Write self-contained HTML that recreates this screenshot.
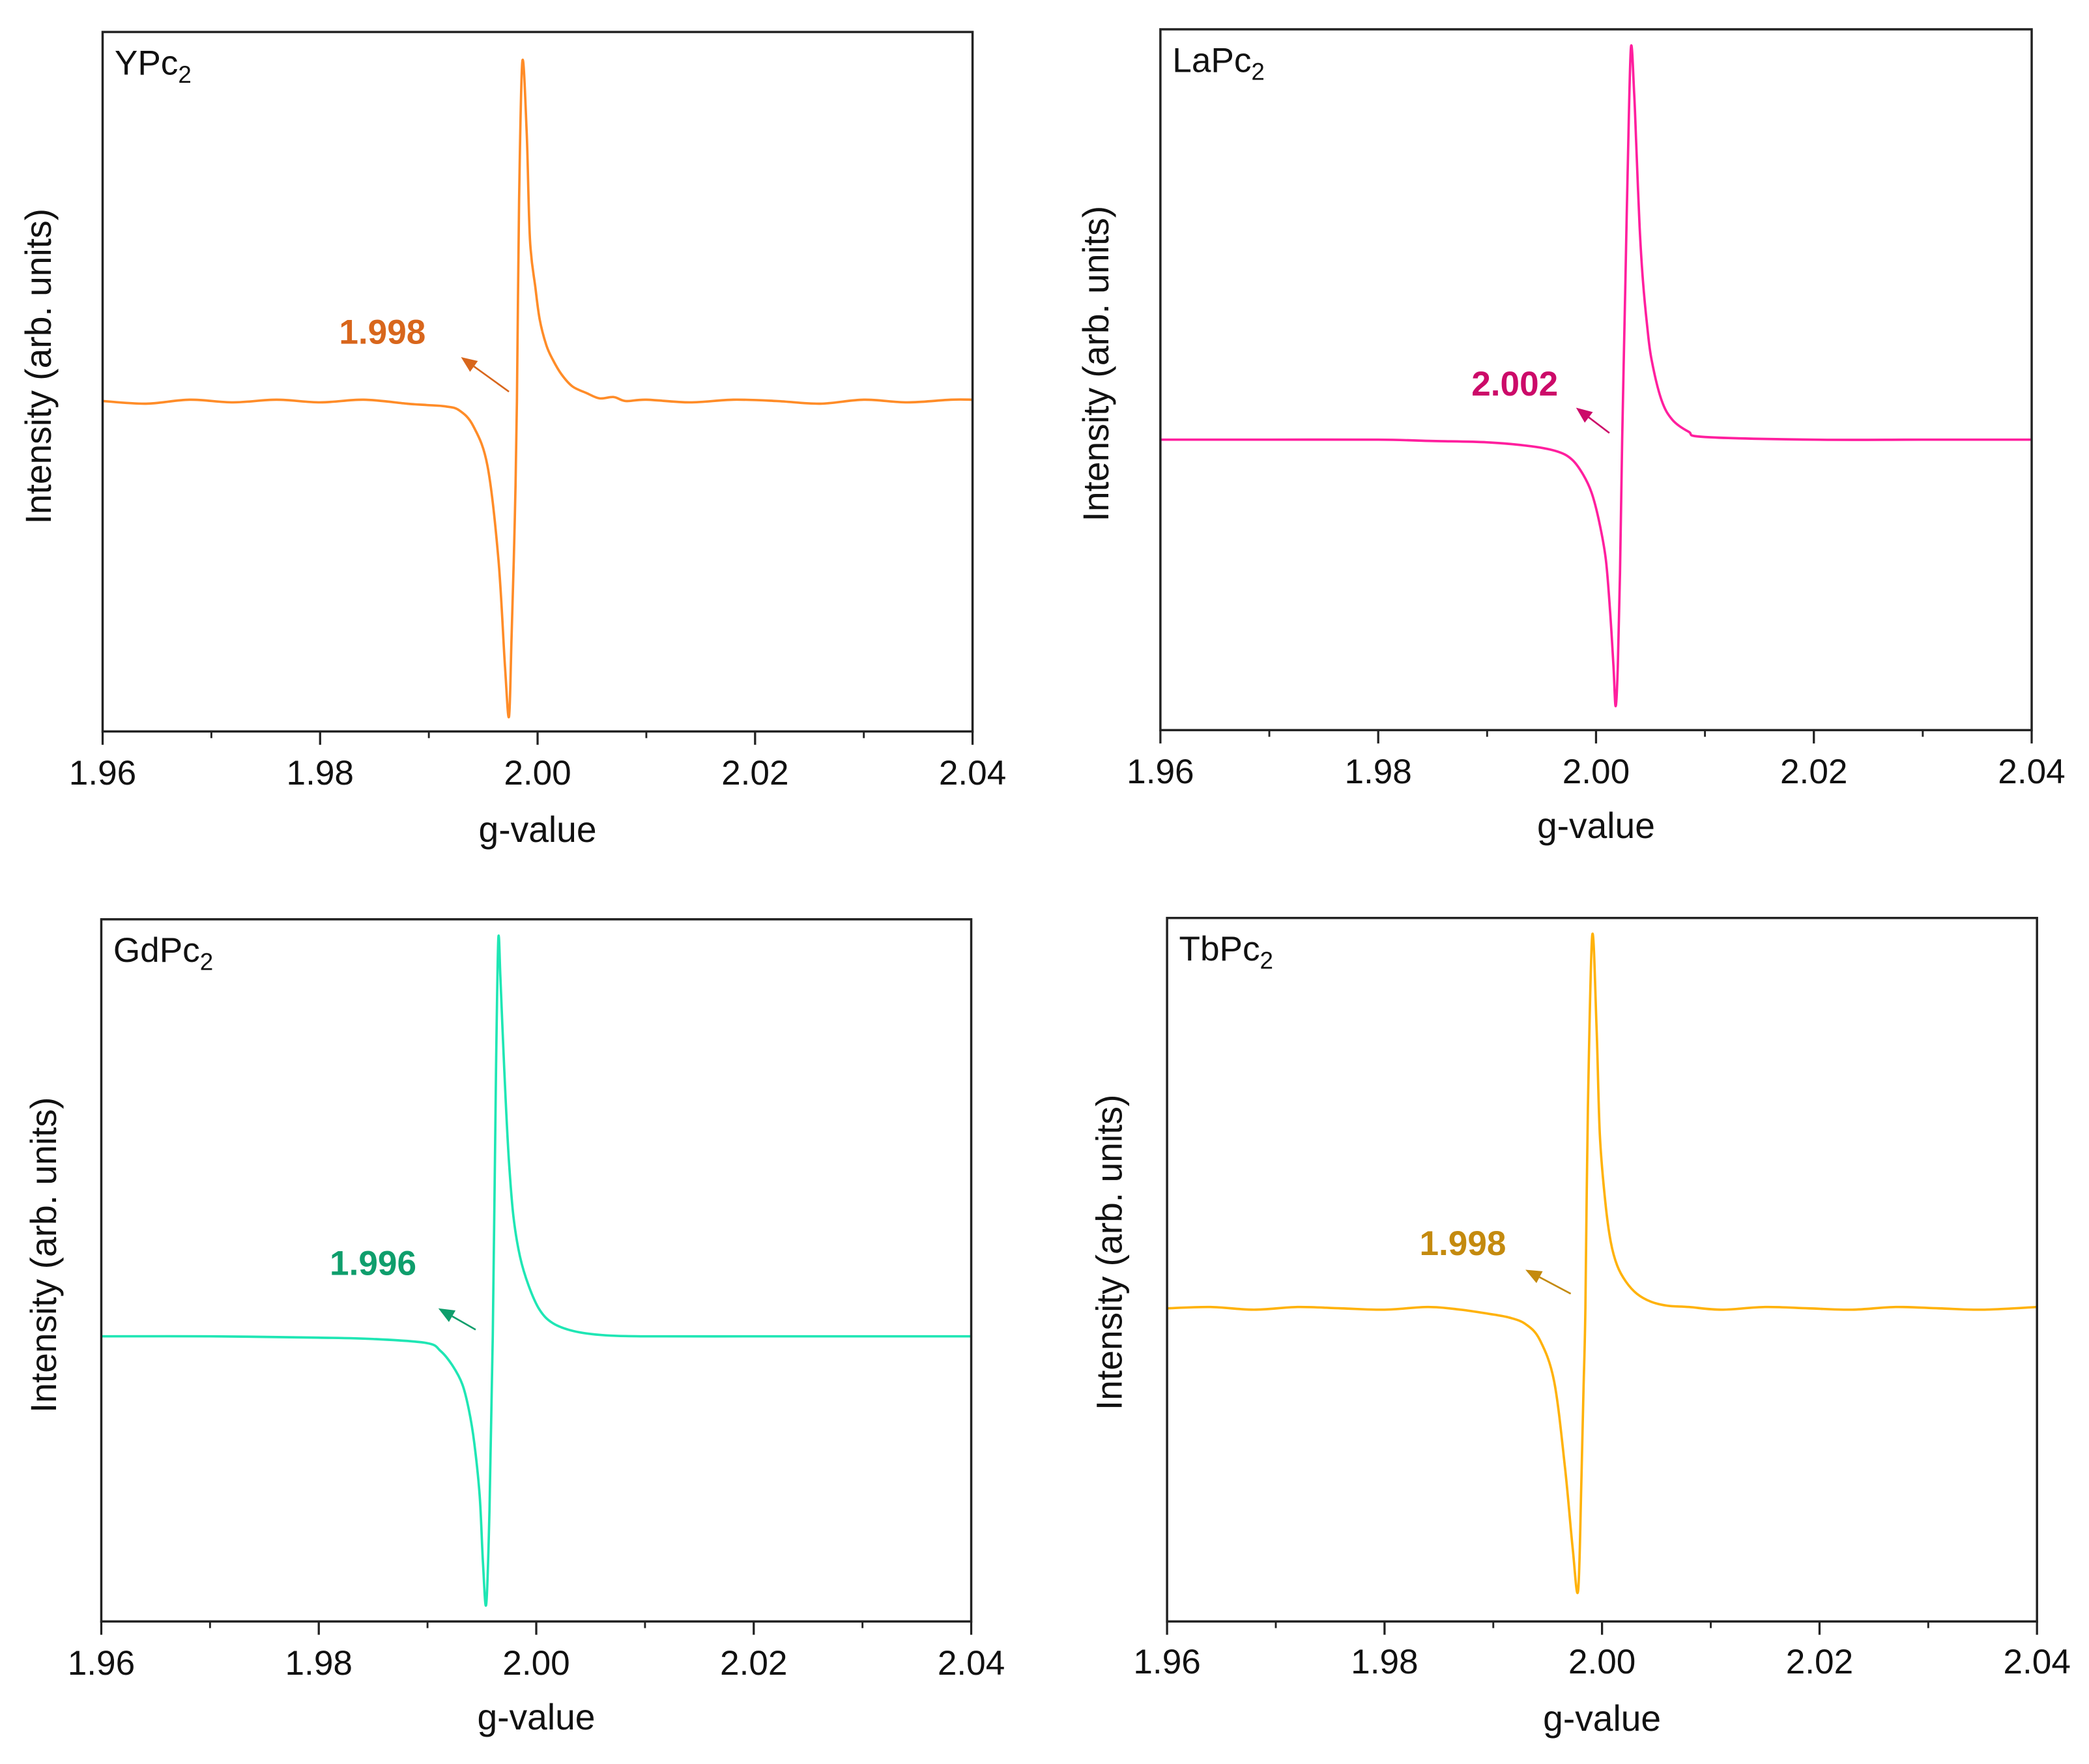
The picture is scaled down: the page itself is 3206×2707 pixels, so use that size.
<!DOCTYPE html>
<html><head><meta charset="utf-8"><style>
html,body{margin:0;padding:0;background:#fff;}
svg{display:block;}
text{font-family:"Liberation Sans",Arial,sans-serif;}
</style></head><body>
<svg id="fig" width="3206" height="2707" viewBox="0 0 1568 1324" xmlns="http://www.w3.org/2000/svg"></svg>
<script>
// ---- data (g-value, intensity relative to baseline) ----
const xTicks = [1.96, 1.98, 2.00, 2.02, 2.04];
const xTickLabels = ["1.96", "1.98", "2.00", "2.02", "2.04"];
const xMinorTicks = [1.97, 1.99, 2.01, 2.03];

const ypcG = [1.96,1.964,1.968,1.972,1.976,1.98,1.984,1.988,1.9898,1.9915,1.9928,1.9941,1.9954,1.9964,1.9970,1.99737,1.9976,1.9979,1.9981,1.9983,1.9986,1.9990,1.9993,1.9998,2.0002,2.0008,2.0014,2.0022,2.0032,2.0045,2.0057,2.0070,2.0081,2.010,2.014,2.018,2.022,2.026,2.030,2.034,2.038,2.04];
const ypcI = [0,-0.02,0.01,-0.01,0.01,-0.01,0.01,-0.02,-0.03,-0.04,-0.07,-0.19,-0.49,-1.19,-1.99,-2.37,-1.79,-0.9,0,1.51,2.55,2.01,1.21,0.85,0.61,0.42,0.31,0.2,0.11,0.06,0.02,0.03,0,0.01,-0.01,0.01,0,-0.02,0.01,-0.01,0.01,0.01];

const lapcG = [1.96,1.97,1.98,1.985,1.990,1.9941,1.9965,1.9978,1.9988,1.9996,2.0003,2.0009,2.0013,2.0016,2.0018,2.0020,2.0022,2.0024,2.0027,2.0029,2.0032,2.0035,2.0037,2.0040,2.0043,2.0047,2.0051,2.0060,2.0070,2.0085,2.010,2.02,2.03,2.04];
const lapcI = [0,0,0,-0.01,-0.02,-0.05,-0.09,-0.15,-0.26,-0.40,-0.62,-0.9,-1.3,-1.7,-2.0,-1.7,-1.0,0,1.2,2.0,2.94,2.6,2.2,1.6,1.2,0.85,0.6,0.3,0.15,0.06,0.02,0,0,0];

const gdpcG = [1.96,1.97,1.98,1.985,1.9899,1.9912,1.9923,1.9932,1.9938,1.9943,1.9948,1.9951,1.9954,1.9957,1.9960,1.9963,1.99651,1.9967,1.9969,1.9972,1.9975,1.9979,1.9985,1.9993,2.0003,2.0015,2.0034,2.006,2.01,2.02,2.03,2.04];
const gdpcI = [0,0,-0.01,-0.02,-0.05,-0.11,-0.22,-0.36,-0.55,-0.8,-1.2,-1.7,-2.01,-1.3,0,2.0,2.98,2.7,2.3,1.75,1.3,0.9,0.6,0.38,0.2,0.1,0.04,0.01,0,0,0,0];

const tbpcG = [1.96,1.964,1.968,1.972,1.976,1.98,1.984,1.987,1.9895,1.9915,1.9930,1.9943,1.9956,1.9966,1.9973,1.9978,1.9981,1.9983,1.99847,1.9987,1.9991,1.9995,1.9998,2.0003,2.0008,2.0014,2.0022,2.0032,2.0045,2.006,2.008,2.011,2.015,2.019,2.023,2.027,2.031,2.035,2.04];
const tbpcI = [0,0.01,-0.01,0.01,0,-0.01,0.01,-0.01,-0.04,-0.07,-0.12,-0.24,-0.55,-1.2,-1.8,-2.12,-1.3,-0.6,0,1.5,2.80,2.1,1.3,0.8,0.5,0.32,0.2,0.11,0.05,0.02,0.01,-0.01,0.01,0,-0.01,0.01,0,-0.01,0.01];

// ---- layout ----
const panels = [
  {key:"ypc2", name:"YPc", g:ypcG, I:ypcI, x0:77, x1:730, y0:24, y1:549, yTop:2.77, yBot:-2.48,
   line:"#ff8c28", lab:"#d8661c", label:"1.998", lx:287, ly:258, a:[382,294,346,268],
   tickY:589, gY:632, ylx:38, yly:275},
  {key:"lapc2", name:"LaPc", g:lapcG, I:lapcI, x0:871, x1:1525, y0:22, y1:548, yTop:3.08, yBot:-2.18,
   line:"#ff1f9e", lab:"#cc0a69", label:"2.002", lx:1137, ly:297, a:[1208,325,1183,306],
   tickY:588, gY:629, ylx:832, yly:273},
  {key:"gdpc2", name:"GdPc", g:gdpcG, I:gdpcI, x0:76, x1:729, y0:690, y1:1217, yTop:3.13, yBot:-2.14,
   line:"#1fe6b4", lab:"#0f9e6c", label:"1.996", lx:280, ly:957, a:[357,998,329,982],
   tickY:1257, gY:1298, ylx:42, yly:942},
  {key:"tbpc2", name:"TbPc", g:tbpcG, I:tbpcI, x0:876, x1:1529, y0:689, y1:1217, yTop:2.93, yBot:-2.35,
   line:"#ffb20a", lab:"#c48a0e", label:"1.998", lx:1098, ly:942, a:[1179,971,1145,953],
   tickY:1256, gY:1299, ylx:842, yly:940}
];

const NS = "http://www.w3.org/2000/svg";
const svg = document.getElementById("fig");
function mk(tag, attrs, parent){
  const e = document.createElementNS(NS, tag);
  for (const k in attrs) e.setAttribute(k, attrs[k]);
  (parent||svg).appendChild(e);
  return e;
}
function smoothPath(pts){
  let d = "M" + pts[0][0].toFixed(2) + "," + pts[0][1].toFixed(2);
  for (let i = 0; i < pts.length - 1; i++){
    const p0 = pts[Math.max(0,i-1)], p1 = pts[i], p2 = pts[i+1], p3 = pts[Math.min(pts.length-1,i+2)];
    const c1x = p1[0] + (p2[0]-p0[0])/6, c1y = p1[1] + (p2[1]-p0[1])/6;
    const c2x = p2[0] - (p3[0]-p1[0])/6, c2y = p2[1] - (p3[1]-p1[1])/6;
    d += "C" + c1x.toFixed(2) + "," + c1y.toFixed(2) + " " + c2x.toFixed(2) + "," + c2y.toFixed(2) + " " + p2[0].toFixed(2) + "," + p2[1].toFixed(2);
  }
  return d;
}

panels.forEach(p => {
  const xs = g => p.x0 + (g - 1.96) / 0.08 * (p.x1 - p.x0);
  const ys = v => p.y0 + (p.yTop - v) / (p.yTop - p.yBot) * (p.y1 - p.y0);

  const grp = mk("g", {});
  
  

  // series
  const pts = p.g.map((g, i) => [xs(g), ys(p.I[i])]);
  const path = mk("path", {d:smoothPath(pts), fill:"none", stroke:p.line, "stroke-width":1.8, "stroke-linejoin":"round"}, grp);
  
  

  // frame
  const fr = mk("rect", {x:p.x0, y:p.y0, width:p.x1-p.x0, height:p.y1-p.y0, fill:"none", stroke:"#222", "stroke-width":1.7}, grp);
  
  

  // ticks
  xTicks.forEach((t, i) => {
    const tk = mk("line", {x1:xs(t), x2:xs(t), y1:p.y1, y2:p.y1+10, stroke:"#222", "stroke-width":1.6}, grp);
    
    
    const tl = mk("text", {x:xs(t), y:p.tickY, "text-anchor":"middle", "font-size":26, fill:"#111"}, grp);
    tl.textContent = xTickLabels[i];
    
    
  });
  xMinorTicks.forEach(t => {
    const mt = mk("line", {x1:xs(t), x2:xs(t), y1:p.y1, y2:p.y1+5, stroke:"#222", "stroke-width":1.4}, grp);
    
    
  });

  // axis titles
  const xt = mk("text", {x:(p.x0+p.x1)/2, y:p.gY, "text-anchor":"middle", "font-size":27, fill:"#111"}, grp);
  xt.textContent = "g-value";
  
  

  const yt = mk("text", {x:p.ylx, y:p.yly, "text-anchor":"middle", "font-size":27, fill:"#111", transform:"rotate(-90 "+p.ylx+" "+p.yly+")"}, grp);
  yt.textContent = "Intensity (arb. units)";
  
  

  // sample title
  const st = mk("text", {x:p.x0+9, y:p.y0+32, "font-size":26, fill:"#111"}, grp);
  st.textContent = p.name;
  const sub = mk("tspan", {"font-size":18, dy:6}, st);
  sub.textContent = "2";
  
  

  // annotation
  const an = mk("text", {x:p.lx, y:p.ly, "text-anchor":"middle", "font-size":26, "font-weight":"bold", fill:p.lab}, grp);
  an.textContent = p.label;
  
  

  const [ax1, ay1, ax2, ay2] = p.a;
  const ang = Math.atan2(ay2-ay1, ax2-ax1);
  const hl = 12, hw = 5;
  const bx = ax2 - hl*Math.cos(ang), by = ay2 - hl*Math.sin(ang);
  const ar = mk("g", {}, grp);
  
  
  mk("line", {x1:ax1, y1:ay1, x2:bx, y2:by, stroke:p.lab, "stroke-width":1.3}, ar);
  mk("polygon", {points:[ax2,ay2, bx+hw*Math.sin(ang), by-hw*Math.cos(ang), bx-hw*Math.sin(ang), by+hw*Math.cos(ang)].join(","), fill:p.lab}, ar);
});
</script>
</body></html>
